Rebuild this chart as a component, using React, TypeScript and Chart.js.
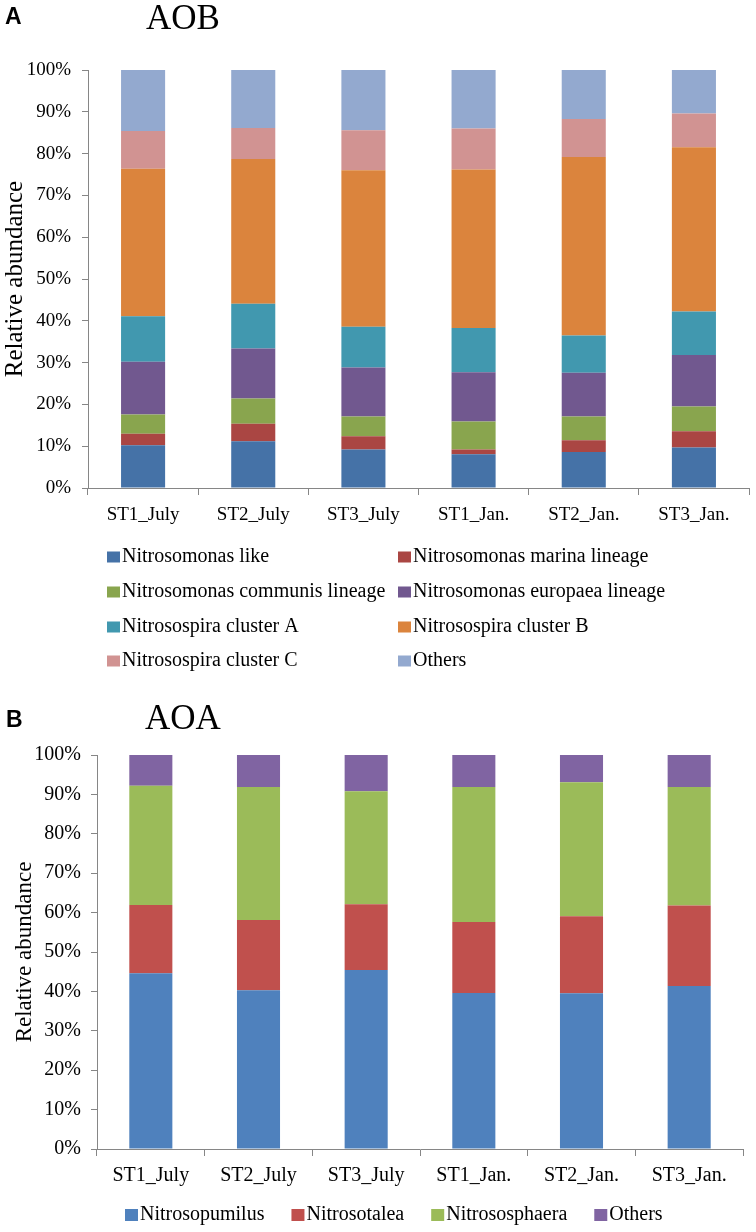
import React, { useEffect, useRef } from "react";
import { Chart, registerables } from "chart.js";

Chart.register(...registerables);

// ---------- data ----------
const categories = ["ST1_July", "ST2_July", "ST3_July", "ST1_Jan.", "ST2_Jan.", "ST3_Jan."];

const aobNames = [
  "Nitrosomonas like",
  "Nitrosomonas marina lineage",
  "Nitrosomonas communis lineage",
  "Nitrosomonas europaea lineage",
  "Nitrosospira cluster A",
  "Nitrosospira cluster B",
  "Nitrosospira cluster C",
  "Others",
];
const nitrosomonasLike = [10.2, 11.2, 9.2, 8.1, 8.6, 9.7];
const nitrosomonasMarina = [2.8, 4.2, 3.2, 1.1, 2.8, 3.9];
const nitrosomonasCommunis = [4.6, 6.0, 4.7, 6.7, 5.7, 5.9];
const nitrosomonasEuropaea = [12.6, 12.0, 11.7, 11.8, 10.5, 12.3];
const nitrosospiraA = [10.9, 10.7, 9.8, 10.6, 8.9, 10.4];
const nitrosospiraB = [35.3, 34.6, 37.4, 37.9, 42.7, 39.3];
const nitrosospiraC = [9.0, 7.4, 9.6, 9.8, 9.1, 8.1];
const aobOthers = [14.6, 13.9, 14.4, 14.0, 11.7, 10.4];

const aoaNames = ["Nitrosopumilus", "Nitrosotalea", "Nitrososphaera", "Others"];
const nitrosopumilus = [44.6, 40.3, 45.4, 39.6, 39.5, 41.4];
const nitrosotalea = [17.3, 17.8, 16.7, 18.0, 19.6, 20.4];
const nitrososphaera = [30.3, 33.8, 28.7, 34.3, 34.0, 30.1];
const aoaOthers = [7.8, 8.1, 9.2, 8.1, 6.9, 8.1];

const yTickValues = [0, 10, 20, 30, 40, 50, 60, 70, 80, 90, 100];

// ---------- styles ----------
const SERIF = "'Liberation Serif', 'Times New Roman', serif";
const SANS = "'Liberation Sans', Arial, sans-serif";
const AXIS_GREY = "#868686";
const aobColors = ["#4572A7", "#AA4643", "#89A54E", "#71588F", "#4198AF", "#DB843D", "#D19392", "#93A9CF"];
const aoaColors = ["#4F81BD", "#C0504D", "#9BBB59", "#8064A2"];

const legendPlugin = {
  id: "gridLegend",
  afterDraw(chart: any, _args: any, opts: any) {
    if (!opts || !opts.show) return;
    const ctx = chart.ctx;
    ctx.save();
    ctx.font = opts.font;
    ctx.textBaseline = "middle";
    ctx.textAlign = "left";
    let flowX = opts.startX;
    chart.data.datasets.forEach((d: any, i: number) => {
      let x: number;
      let y: number;
      if (opts.mode === "grid") {
        x = opts.columns[i % opts.columns.length];
        y = opts.rows[Math.floor(i / opts.columns.length)];
      } else {
        x = flowX;
        y = opts.y;
      }
      ctx.fillStyle = d.backgroundColor;
      ctx.fillRect(x, y - opts.boxH / 2, opts.boxW, opts.boxH);
      ctx.fillStyle = "#000";
      ctx.fillText(d.label, x + opts.boxW + opts.textGap, y);
      const w = ctx.measureText(d.label).width;
      flowX = x + opts.boxW + opts.textGap + w + opts.itemGap;
    });
    ctx.restore();
  },
};

function makeConfig(
  names: string[],
  series: number[][],
  colors: string[],
  geom: { yWidth: number; xHeight: number; top: number; right: number; tickPad: number; labelPad: number; titlePad: number; titleSize: number; tickSize: number },
  legendOpts: any
): any {
  return {
    type: "bar",
    data: {
      labels: categories,
      datasets: names.map((n, i) => ({
        label: n,
        data: series[i],
        backgroundColor: colors[i],
        borderWidth: 0,
        barPercentage: 0.4,
        categoryPercentage: 1.0,
      })),
    },
    options: {
      animation: false,
      responsive: false,
      devicePixelRatio: 1,
      layout: { padding: { top: geom.top, right: geom.right, bottom: 0, left: 0 } },
      plugins: {
        legend: { display: false },
        tooltip: { enabled: false },
        title: { display: false },
        gridLegend: legendOpts,
      },
      scales: {
        x: {
          stacked: true,
          grid: { display: true, drawOnChartArea: false, drawTicks: true, tickLength: 7, color: AXIS_GREY, offset: true },
          border: { display: true, color: AXIS_GREY, width: 1 },
          ticks: {
            color: "#000",
            font: { family: SERIF, size: geom.tickSize },
            padding: geom.labelPad,
            maxRotation: 0,
            autoSkip: false,
          },
          afterFit: (s: any) => {
            s.height = geom.xHeight;
          },
        },
        y: {
          stacked: true,
          min: 0,
          max: 100,
          afterBuildTicks: (s: any) => {
            s.ticks = yTickValues.map((v) => ({ value: v }));
          },
          ticks: {
            color: "#000",
            font: { family: SERIF, size: geom.tickSize },
            padding: geom.tickPad,
            callback: (v: any) => v + "%",
          },
          grid: { display: true, drawOnChartArea: false, drawTicks: true, tickLength: 6, color: AXIS_GREY },
          border: { display: true, color: AXIS_GREY, width: 1 },
          title: {
            display: true,
            text: "Relative abundance",
            color: "#000",
            font: { family: SERIF, size: geom.titleSize },
            padding: { top: geom.titlePad, bottom: 0 },
          },
          afterFit: (s: any) => {
            s.width = geom.yWidth;
          },
        },
      },
    },
    plugins: [legendPlugin],
  };
}

export default function App() {
  const aobRef = useRef<HTMLCanvasElement | null>(null);
  const aoaRef = useRef<HTMLCanvasElement | null>(null);

  useEffect(() => {
    const c1 = new Chart(
      aobRef.current as HTMLCanvasElement,
      makeConfig(
        aobNames,
        [
          nitrosomonasLike,
          nitrosomonasMarina,
          nitrosomonasCommunis,
          nitrosomonasEuropaea,
          nitrosospiraA,
          nitrosospiraB,
          nitrosospiraC,
          aobOthers,
        ],
        aobColors,
        { yWidth: 88, xHeight: 192, top: 70, right: 7, tickPad: 11, labelPad: 9, titlePad: 0, titleSize: 25, tickSize: 19 },
        {
          show: true,
          mode: "grid",
          font: `20px ${SERIF}`,
          columns: [107, 398],
          rows: [557, 592, 627, 661],
          boxW: 13,
          boxH: 11,
          textGap: 2,
          itemGap: 0,
          startX: 0,
          y: 0,
        }
      )
    );
    const c2 = new Chart(
      aoaRef.current as HTMLCanvasElement,
      makeConfig(
        aoaNames,
        [nitrosopumilus, nitrosotalea, nitrososphaera, aoaOthers],
        aoaColors,
        { yWidth: 97, xHeight: 83, top: 75, right: 13, tickPad: 10, labelPad: 8, titlePad: 11, titleSize: 23, tickSize: 20 },
        {
          show: true,
          mode: "flow",
          font: `20px ${SERIF}`,
          startX: 125,
          y: 535,
          boxW: 13,
          boxH: 12,
          textGap: 2,
          itemGap: 27,
          columns: [],
          rows: [],
        }
      )
    );
    return () => {
      c1.destroy();
      c2.destroy();
    };
  }, []);

  const letter: React.CSSProperties = {
    position: "absolute",
    fontFamily: SANS,
    fontWeight: "bold",
    fontSize: 23,
    lineHeight: "23px",
    margin: 0,
    color: "#000",
  };
  const title: React.CSSProperties = {
    position: "absolute",
    fontFamily: SERIF,
    fontSize: 35,
    lineHeight: "35px",
    margin: 0,
    color: "#000",
  };

  return (
    <div style={{ position: "absolute", left: 0, top: 0, width: 756, height: 1232, background: "#fff", overflow: "hidden" }}>
      <canvas ref={aobRef} width={756} height={680} style={{ position: "absolute", left: 0, top: 0, width: 756, height: 680 }} />
      <canvas ref={aoaRef} width={756} height={552} style={{ position: "absolute", left: 0, top: 680, width: 756, height: 552 }} />
      <div style={{ ...letter, left: 5, top: 5 }}>A</div>
      <div style={{ ...title, left: 146, top: 0 }}>AOB</div>
      <div style={{ ...letter, left: 6, top: 708 }}>B</div>
      <div style={{ ...title, left: 145, top: 700 }}>AOA</div>
    </div>
  );
}
